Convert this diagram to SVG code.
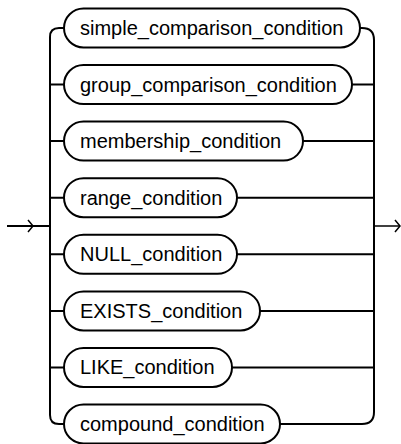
<svg xmlns="http://www.w3.org/2000/svg" width="401" height="444" viewBox="0 0 401 444">
<style>
.box{fill:#fff;stroke:#000;stroke-width:2}
.ln{fill:none;stroke:#000;stroke-width:2}
.arr{fill:none;stroke:#000;stroke-width:1.5}
text{font-family:"Liberation Sans",Arial,sans-serif;font-size:20px;fill:#000}
</style>
<rect width="401" height="444" fill="#fff"/>
<g id="connectors">
<path class="ln" d="M7,226 H50"/>
<path class="arr" d="M28,220 L33,226 L28,232"/>
<path class="ln" d="M50,37 V415"/>
<path class="ln" d="M50,37 Q50,28 59,28 H64"/>
<path class="ln" d="M50,415 Q50,424 59,424 H64"/>
<path class="ln" d="M50,84.6 H64 M50,141.1 H64 M50,197.7 H64 M50,254.3 H64 M50,310.9 H64 M50,367.4 H64"/>
<path class="ln" d="M374,40 V412"/>
<path class="ln" d="M360,28 H362 Q374,28 374,40"/>
<path class="ln" d="M280,424 H362 Q374,424 374,412"/>
<path class="ln" d="M352,84.6 H374 M303,141.1 H374 M237,197.7 H374 M237,254.3 H374 M260,310.9 H374 M232,367.4 H374"/>
<path class="arr" d="M374,226 H400"/>
<path class="arr" d="M395,220 L400,226 L395,232"/>
</g>
<g id="n1"><rect class="box" x="64" y="8.5" width="296" height="39" rx="19.5"/><text x="80" y="35">simple_comparison_condition</text></g>
<g id="n2"><rect class="box" x="64" y="65.1" width="288" height="39" rx="19.5"/><text x="80" y="91.6">group_comparison_condition</text></g>
<g id="n3"><rect class="box" x="64" y="121.6" width="239" height="39" rx="19.5"/><text x="80" y="148.1">membership_condition</text></g>
<g id="n4"><rect class="box" x="64" y="178.2" width="173" height="39" rx="19.5"/><text x="80" y="204.7">range_condition</text></g>
<g id="n5"><rect class="box" x="64" y="234.8" width="173" height="39" rx="19.5"/><text x="80" y="261.3">NULL_condition</text></g>
<g id="n6"><rect class="box" x="64" y="291.4" width="196" height="39" rx="19.5"/><text x="80" y="317.9">EXISTS_condition</text></g>
<g id="n7"><rect class="box" x="64" y="347.9" width="168" height="39" rx="19.5"/><text x="80" y="374.4">LIKE_condition</text></g>
<g id="n8"><rect class="box" x="64" y="404.5" width="216" height="39" rx="19.5"/><text x="80" y="431">compound_condition</text></g>
</svg>
